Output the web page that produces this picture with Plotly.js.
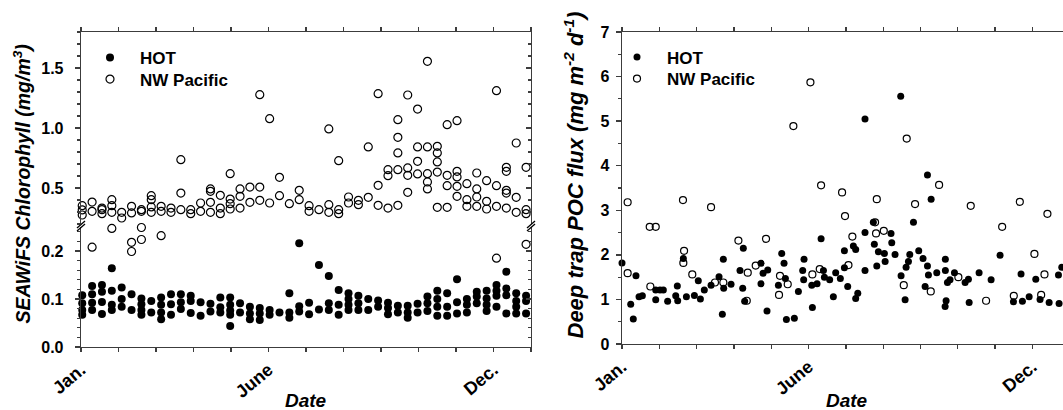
<!DOCTYPE html>
<html><head><meta charset="utf-8">
<script src="https://cdn.plot.ly/plotly-3.0.1.min.js"></script>
<style>html,body{margin:0;padding:0;background:#fff}#chart{width:1063px;height:410px}</style>
</head><body><div id="chart"></div>
<script>
// ---------------- DATA ----------------
// 8-day SeaWiFS composites (day of year of each composite)
const chlDay = [1,9,17,25,33,41,49,57,65,73,81,89,97,105,113,121,129,137,145,153,161,169,177,185,193,201,209,217,225,233,241,249,257,265,273,281,289,297,305,313,321,329,337,345,353,361];
// HOT chlorophyll (mg/m3), one list of yearly values per composite
const hotChl = [
 [0.108,0.091,0.077,0.067],[0.127,0.110,0.092,0.077],[0.129,0.115,0.094,0.069],[0.164,0.117,0.088,0.077],
 [0.124,0.100,0.084],[0.110,0.077],[0.101,0.089,0.077,0.067],[0.096,0.072],
 [0.103,0.088,0.072,0.058],[0.110,0.089,0.067],[0.110,0.093,0.079],[0.107,0.096,0.071],
 [0.093,0.065],[0.090,0.074],[0.103,0.083,0.072],[0.103,0.088,0.076,0.067,0.044],
 [0.091,0.072],[0.084,0.070,0.058],[0.081,0.070,0.056],[0.077,0.067],
 [0.072],[0.112,0.072,0.061],[0.216,0.085,0.074],[0.092,0.068],
 [0.171,0.078],[0.148,0.091,0.077],[0.119,0.088,0.067],[0.112,0.100,0.088,0.077],
 [0.107,0.091,0.077],[0.100,0.077],[0.097,0.084],[0.092,0.081,0.068],
 [0.086,0.072],[0.086,0.072,0.061],[0.090,0.072],[0.105,0.091,0.075],
 [0.117,0.100,0.084,0.065],[0.112,0.084,0.065],[0.141,0.093,0.070],[0.100,0.088,0.072],
 [0.115,0.105,0.091],[0.117,0.101,0.088,0.075],[0.129,0.117,0.107,0.084],[0.157,0.122,0.108,0.070],
 [0.112,0.096,0.084,0.070],[0.107,0.096,0.070]
];
// NW Pacific chlorophyll (mg/m3), one list per composite
const nwChl = [
 [0.353,0.317,0.275],[0.383,0.306,0.208],[0.333,0.319,0.286],[0.403,0.353,0.297,0.247],
 [0.297,0.250],[0.347,0.292,0.218,0.199],[0.319,0.306,0.249,0.224],[0.436,0.403,0.342,0.297],
 [0.347,0.306,0.232],[0.333,0.297],[0.736,0.458,0.319],[0.319,0.286],
 [0.375,0.306],[0.492,0.472,0.381,0.297],[0.439,0.333,0.286],[0.619,0.408,0.369,0.325],
 [0.492,0.431,0.333],[0.508,0.381],[1.278,0.508,0.397],[1.078,0.375],
 [0.589,0.436],[0.369],[0.481,0.403],[0.353,0.306],
 [0.319],[0.992,0.361,0.297],[0.728,0.319,0.286],[0.425,0.375],
 [0.397,0.361],[0.842,0.422],[1.286,0.522,0.356],[0.653,0.603,0.333],
 [1.069,0.922,0.792,0.653,0.356],[1.275,0.667,0.606,0.464],[1.158,0.842,0.722,0.617],[1.556,0.842,0.619,0.550,0.492],
 [0.847,0.792,0.717,0.633,0.339],[1.028,0.606,0.519,0.339],[1.061,0.639,0.592,0.514,0.431],[0.536,0.403,0.347],
 [0.625,0.492,0.425,0.347],[0.561,0.389,0.325],[1.311,0.519,0.347,0.185],[0.672,0.639,0.481,0.458,0.333],
 [0.875,0.422,0.297],[0.672,0.319,0.286,0.214]
];
// Deep trap POC flux, HOT (day of year, mg m-2 d-1)
const hotFluxDay = [0,7.1,9.2,11.4,13.9,16.6,27.5,27.5,31.0,33.7,
 37.2,43.8,45.1,45.4,50.0,52.5,59.0,62.2,63.9,67.1,
 72.6,79.1,81.8,82.6,82.9,88.9,96.2,98.4,98.9,100.0,
 113.3,113.3,115.0,118.2,118.8,127.5,130.2,132.1,133.2,134.0,
 140.5,143.8,147.3,148.1,148.4,154.7,155.2,159.0,162.3,164.2,
 165.0,169.3,172.3,174.2,178.0,181.3,181.3,184.0,188.6,190.5,
 190.5,192.2,198.1,198.1,198.1,204.9,205.7,207.7,209.0,213.9,
 214.5,219.3,219.9,222.6,227.2,227.5,230.8,231.6,233.5,234.6,
 237.6,241.9,245.4,247.1,249.0,249.0,249.8,252.0,256.6,263.4,
 263.6,263.6,264.2,265.3,267.4,271.0,279.7,282.4,283.0,291.1,
 300.9,308.2,319.1,325.3,326.4,331.9,337.3,340.8,348.2,355.8,
 356.3,358.5];
const hotFlux = [1.82,0.89,0.56,1.53,1.06,1.08,0.99,1.21,1.21,1.21,
 0.96,1.08,1.30,0.97,1.92,1.06,1.09,1.42,1.01,1.21,
 1.32,1.51,0.67,1.90,1.25,1.34,1.65,1.25,2.15,0.96,
 1.81,1.35,1.59,0.74,1.66,1.32,2.03,1.81,1.47,0.55,
 0.58,1.18,1.65,1.44,1.90,1.32,0.82,1.35,2.36,1.65,
 1.50,1.44,1.06,1.60,1.47,2.09,1.71,1.29,2.20,2.12,
 1.02,1.14,2.50,1.65,5.05,2.73,2.24,1.75,2.07,2.03,
 1.85,2.48,2.27,2.01,5.56,1.53,0.99,1.72,1.85,2.01,
 2.73,2.09,1.92,1.29,1.75,3.79,1.55,3.25,1.60,0.84,
 1.90,1.65,0.97,1.38,1.44,1.60,1.38,1.45,0.93,1.60,
 1.44,1.99,0.95,1.57,0.96,1.06,1.45,1.00,0.93,1.55,
 0.91,1.72];
// Deep trap POC flux, NW Pacific
const nwFluxDay = [4.6,4.6,22.6,23.1,27.5,49.7,50.6,50.0,57.3,72.6,
 75.8,82.6,94.9,101.7,102.5,109.0,117.4,128.0,128.8,135.1,
 139.7,153.6,155.2,161.2,162.3,179.4,181.8,184.6,187.8,206.3,
 207.1,207.7,213.4,229.7,232.1,238.9,251.7,258.5,274.2,284.3,
 296.8,309.9,319.4,324.3,336.2,341.7,344.4,346.8];
const nwFlux = [3.18,1.59,2.63,1.29,2.63,3.23,2.09,1.82,1.56,3.07,
 1.38,1.38,2.32,0.97,1.60,1.76,2.36,1.10,1.53,1.34,
 4.89,5.87,1.56,1.68,3.56,3.40,2.87,1.77,2.41,2.73,
 2.48,3.25,2.54,1.32,4.61,3.14,1.18,3.57,1.50,3.10,
 0.97,2.63,1.08,3.19,2.02,1.10,1.56,2.92];
// Labelled month ticks (month index from January) and their labels
const labelMonths = [0,5,11];
const monthLabels = ['Jan.','June','Dec.'];

// ---------------- BUILD ----------------
const W=1063,H=410;
const px=x=>x/W, py=y=>1-y/H;
function flat(days,groups){const x=[],y=[];groups.forEach((g,i)=>g.forEach(v=>{x.push(days[i]);y.push(v);}));return {x,y};}
const hot=flat(chlDay,hotChl), nw=flat(chlDay,nwChl);
const BREAK=0.25;
const nwTop={x:[],y:[]}, nwBot={x:[],y:[]};
nw.y.forEach((v,i)=>{const t=v>=BREAK?nwTop:nwBot;t.x.push(nw.x[i]);t.y.push(v);});

const FONT='Liberation Sans, Arial, Helvetica, sans-serif';
const AX='#3c3c3c';
const monthLen=365/12;
const tickFont={family:FONT,size:16,weight:'bold',color:'#000'};
const lineCommon={showline:true,linecolor:AX,linewidth:1.3,showgrid:false,zeroline:false,tickcolor:AX,tickwidth:1.3};
const monthMinor={tick0:0,dtick:monthLen,ticks:'outside',ticklen:4,tickcolor:AX,tickwidth:1.3};
const xBase=Object.assign({tickmode:'array',tickvals:labelMonths.map(m=>m*monthLen),ticktext:monthLabels,
 ticks:'outside',ticklen:4,tickangle:-40,tickfont:Object.assign({},tickFont,{size:18}),minor:monthMinor},lineCommon);
const minor=(d,t)=>({dtick:d,ticks:t,ticklen:3,tickcolor:AX,tickwidth:1.1});

const filled=(s)=>({size:s,color:'#000',symbol:'circle'});
const open=(s)=>({size:s,color:'rgba(255,255,255,0)',symbol:'circle',line:{color:'#000',width:1.2}});

const traces=[
 {x:hot.x,y:hot.y,xaxis:'x',yaxis:'y',type:'scatter',mode:'markers',marker:filled(8),name:'HOT',legend:'legend',cliponaxis:false},
 {x:nwTop.x,y:nwTop.y,xaxis:'x',yaxis:'y2',type:'scatter',mode:'markers',marker:open(8),name:'NW Pacific',legend:'legend3',legendgroup:'nw',cliponaxis:false},
 {x:nwBot.x,y:nwBot.y,xaxis:'x',yaxis:'y',type:'scatter',mode:'markers',marker:open(8),name:'NW Pacific',legendgroup:'nw',showlegend:false,cliponaxis:false},
 {x:hotFluxDay,y:hotFlux,xaxis:'x3',yaxis:'y5',type:'scatter',mode:'markers',marker:filled(7),name:'HOT',legend:'legend2',cliponaxis:false},
 {x:nwFluxDay,y:nwFlux,xaxis:'x3',yaxis:'y5',type:'scatter',mode:'markers',marker:open(7),name:'NW Pacific',legend:'legend4',cliponaxis:false},
 {x:[],y:[],xaxis:'x2',yaxis:'y2',type:'scatter',mode:'markers',showlegend:false},
 {x:[],y:[],xaxis:'x',yaxis:'y3',type:'scatter',mode:'markers',showlegend:false},
 {x:[],y:[],xaxis:'x',yaxis:'y4',type:'scatter',mode:'markers',showlegend:false}
];

// each legend holds one entry so the rows can be placed like the reference
const legendAt=(xc,yc)=>({x:px(xc-30),y:py(yc-18),xanchor:'left',yanchor:'top',bgcolor:'rgba(0,0,0,0)',borderwidth:0,itemwidth:50,
 font:{family:FONT,size:17,weight:'bold',color:'#000'}});

const breakLines=[];
[81,531].forEach(x0=>{
 [[228,221],[231,224]].forEach(([ya,yb])=>{
  breakLines.push({type:'line',xref:'paper',yref:'paper',x0:px(x0-4),y0:py(ya),x1:px(x0+4),y1:py(yb),line:{color:'#000',width:1.3}});
 });
});

const ann=(x,y,text,size,angle)=>({xref:'paper',yref:'paper',x:px(x),y:py(y),text:text,showarrow:false,textangle:angle||0,
 xanchor:'center',yanchor:'middle',font:{family:FONT,size:size,weight:'bold',style:'italic',color:'#000'}});

const layout={
 width:W,height:H,margin:{l:0,r:0,t:0,b:0},paper_bgcolor:'#fff',plot_bgcolor:'rgba(0,0,0,0)',
 font:{family:FONT,color:'#000'},showlegend:true,
 xaxis:Object.assign({},xBase,{domain:[px(81),px(531)],range:[0,365],anchor:'y'}),
 xaxis2:Object.assign({},lineCommon,{overlaying:'x',side:'top',anchor:'y2',range:[0,365],tick0:0,dtick:monthLen,ticks:'outside',ticklen:4,showticklabels:false}),
 yaxis:Object.assign({},lineCommon,{domain:[py(347),py(227)],range:[0,0.25],anchor:'x',tick0:0,dtick:0.1,tickformat:'.1f',ticks:'outside',ticklen:5,ticklabelstandoff:8,tickfont:tickFont,minor:minor(0.02,'outside')}),
 yaxis2:Object.assign({},lineCommon,{domain:[py(224),py(32)],range:[0.2,1.8],anchor:'x',tick0:0,dtick:0.5,tickformat:'.1f',ticks:'outside',ticklen:5,ticklabelstandoff:8,tickfont:tickFont,minor:minor(0.1,'outside')}),
 yaxis3:Object.assign({},lineCommon,{overlaying:'y',side:'right',anchor:'x',range:[0,0.25],tick0:0,dtick:0.1,ticks:'inside',ticklen:5,showticklabels:false,minor:minor(0.02,'inside')}),
 yaxis4:Object.assign({},lineCommon,{overlaying:'y2',side:'right',anchor:'x',range:[0.2,1.8],tick0:0,dtick:0.5,ticks:'inside',ticklen:5,showticklabels:false,minor:minor(0.1,'inside')}),
 xaxis3:Object.assign({},xBase,{domain:[px(622),1],range:[0,359.5],anchor:'y5',mirror:'ticks'}),
 yaxis5:Object.assign({},lineCommon,{domain:[py(344),py(32)],range:[0,7],anchor:'x3',tick0:0,dtick:1,ticks:'outside',ticklen:5,ticklabelstandoff:3,tickfont:tickFont,minor:minor(0.5,'outside')}),
 legend:legendAt(110,58),
 legend3:legendAt(110,79.5),
 legend2:legendAt(637,57.5),
 legend4:legendAt(637,79),
 shapes:breakLines,
 annotations:[
  ann(22,184.5,'SEAWiFS Chlorophyll (mg/m<sup>3</sup>)',19.5,-90),
  ann(574,175.5,'Deep trap POC flux (mg m<sup>-2</sup> d<sup>-1</sup>)',22,-90),
  ann(306,400,'Date',19,0),
  ann(847,400,'Date',19,0)
 ]
};
Plotly.newPlot('chart',traces,layout,{displayModeBar:false,staticPlot:true});
</script></body></html>
